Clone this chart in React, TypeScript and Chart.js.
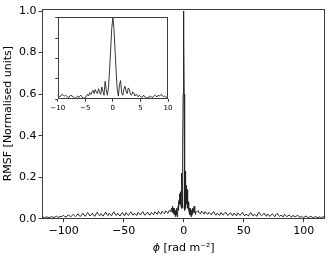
import React, { useEffect, useRef } from "react";
import { Chart, registerables } from "chart.js";

Chart.register(...registerables);

// ---- data ----
const PHI_LEFT_START = -118; // step 1 rad m^-2
const rmsfLeft = [
  0.006, 0.008, 0.005, 0.007, 0.009, 0.006, 0.005, 0.008, 0.010, 0.007, 0.006, 0.009, 0.012, 0.008, 0.007, 0.011, 0.009, 0.013,
  0.016, 0.010, 0.008, 0.012, 0.019, 0.013, 0.009, 0.015, 0.021, 0.014, 0.010, 0.017, 0.024, 0.015, 0.011, 0.018, 0.026, 0.017, 0.012, 0.020,
  0.030, 0.022, 0.013, 0.019, 0.027, 0.016, 0.012, 0.023, 0.031, 0.020, 0.014, 0.025, 0.018, 0.013, 0.022, 0.032, 0.021, 0.015, 0.026, 0.019,
  0.014, 0.028, 0.033, 0.020, 0.016, 0.027, 0.019, 0.013, 0.024, 0.030, 0.018, 0.015, 0.029, 0.021, 0.016, 0.025, 0.033, 0.022, 0.017, 0.027,
  0.020, 0.016, 0.031, 0.024, 0.018, 0.028, 0.034, 0.021, 0.017, 0.026, 0.032, 0.020, 0.018, 0.030, 0.025, 0.019, 0.033, 0.028, 0.021, 0.035,
  0.027, 0.022, 0.036, 0.030, 0.024, 0.038, 0.031, 0.026, 0.040, 0.034,
];

const PHI_CORE_START = -10;
const PHI_CORE_STEP = 0.2;
const rmsfCore = [
  0.05, 0.04, 0.03, 0.05, 0.06, 0.05, 0.04, 0.05, 0.04, 0.03,
  0.02, 0.04, 0.05, 0.04, 0.03, 0.02, 0.01, 0.03, 0.04, 0.02,
  0.04, 0.05, 0.03, 0.01, 0.02, 0.01, 0.04, 0.06, 0.04, 0.08,
  0.06, 0.09, 0.11, 0.07, 0.12, 0.09, 0.07, 0.13, 0.09, 0.06,
  0.15, 0.10, 0.05, 0.22, 0.12, 0.05, 0.14, 0.35, 0.60, 0.87,
  1.00, 0.87, 0.60, 0.34, 0.12, 0.04, 0.18, 0.23, 0.08, 0.05,
  0.12, 0.16, 0.10, 0.07, 0.14, 0.12, 0.06, 0.05, 0.09, 0.08,
  0.04, 0.06, 0.05, 0.03, 0.05, 0.04, 0.02, 0.03, 0.05, 0.03,
  0.02, 0.01, 0.03, 0.02, 0.04, 0.03, 0.02, 0.04, 0.05, 0.04,
  0.03, 0.05, 0.04, 0.05, 0.06, 0.04, 0.03, 0.04, 0.03, 0.02,
  0.03,
];

const PHI_RIGHT_START = 11; // step 1 rad m^-2
const rmsfRight = [
  0.033, 0.039, 0.028, 0.024, 0.036, 0.030, 0.022, 0.034, 0.027, 0.021,
  0.031, 0.025, 0.019, 0.029, 0.034, 0.022, 0.017, 0.027, 0.020, 0.016, 0.030, 0.023, 0.018, 0.026, 0.032, 0.020, 0.016, 0.024, 0.029, 0.019,
  0.015, 0.026, 0.021, 0.014, 0.028, 0.022, 0.016, 0.024, 0.031, 0.019, 0.014, 0.023, 0.017, 0.013, 0.025, 0.029, 0.018, 0.014, 0.022, 0.016,
  0.012, 0.026, 0.030, 0.019, 0.014, 0.021, 0.027, 0.017, 0.012, 0.023, 0.015, 0.011, 0.019, 0.024, 0.015, 0.010, 0.020, 0.026, 0.016, 0.011,
  0.017, 0.013, 0.009, 0.021, 0.015, 0.010, 0.014, 0.018, 0.011, 0.008, 0.016, 0.012, 0.009, 0.013, 0.017, 0.010, 0.007, 0.012, 0.009, 0.006,
  0.010, 0.013, 0.008, 0.006, 0.009, 0.011, 0.007, 0.005, 0.008, 0.010, 0.006, 0.005, 0.009, 0.007, 0.005, 0.008, 0.011, 0.007,
];

const xTicksMain = [-100, -50, 0, 50, 100];
const yTicksMain = [0, 0.2, 0.4, 0.6, 0.8, 1.0];
const xTicksInset = [-10, -5, 0, 5, 10];
const yTicksInset = [0, 0.25, 0.5, 0.75, 1.0];

const xLabelSymbol = "ϕ";
const xLabelUnit = " [rad m⁻²]";
const yLabel = "RMSF [Normalised units]";

function buildPoints() {
  const pts: { x: number; y: number }[] = [];
  rmsfLeft.forEach((v, i) => pts.push({ x: PHI_LEFT_START + i, y: v }));
  rmsfCore.forEach((v, i) => pts.push({ x: +(PHI_CORE_START + i * PHI_CORE_STEP).toFixed(2), y: v }));
  rmsfRight.forEach((v, i) => pts.push({ x: PHI_RIGHT_START + i, y: v }));
  return pts;
}

const fmt = (v: number, digits: number) => {
  const s = Math.abs(v).toFixed(digits);
  return v < 0 ? "\u2212" + s : s;
};

const FONT = "'DejaVu Sans', sans-serif";
const LINE = "#222";
const FRAME = "#3c3c3c";

const framePlugin = {
  id: "frame",
  afterDraw(chart: any) {
    const { left, top, right, bottom } = chart.chartArea;
    const ctx = chart.ctx;
    ctx.save();
    ctx.strokeStyle = FRAME;
    ctx.lineWidth = 1;
    const l = Math.round(left) + 0.5;
    const t = Math.round(top) + 0.5;
    const r = Math.round(right) - 0.5;
    const b = Math.round(bottom) - 0.5;
    ctx.strokeRect(l, t, r - l, b - t);
    ctx.restore();
  },
};

// x-axis title with an italic phi, drawn as real canvas text
const xTitlePlugin = {
  id: "xTitle",
  afterDraw(chart: any) {
    const { left, right } = chart.chartArea;
    const ctx = chart.ctx;
    ctx.save();
    ctx.fillStyle = "#000";
    ctx.textBaseline = "middle";
    ctx.textAlign = "left";
    const fItal = `italic 11px ${FONT}`;
    const fNorm = `11px ${FONT}`;
    ctx.font = fItal;
    const w1 = ctx.measureText(xLabelSymbol).width;
    ctx.font = fNorm;
    const w2 = ctx.measureText(xLabelUnit).width;
    const cx = (left + right) / 2;
    const x0 = cx - (w1 + w2) / 2;
    const y = 248;
    ctx.font = fItal;
    ctx.fillText(xLabelSymbol, x0, y);
    ctx.font = fNorm;
    ctx.fillText(xLabelUnit, x0 + w1, y);
    ctx.restore();
  },
};

function makeConfig(opts: {
  xMin: number; xMax: number; yMin: number; yMax: number;
  xTicks: number[]; yTicks: number[];
  fontSize: number; tickLen: number;
  yAxisWidth: number; xAxisHeight: number;
  padding: { left: number; right: number; top: number; bottom: number };
  showYLabels: boolean; titles: boolean; xPad: number; yPad: number;
  lineWidth: number;
}) {
  const grid = {
    display: true,
    drawOnChartArea: false,
    drawTicks: true,
    tickLength: opts.tickLen,
    color: FRAME,
    lineWidth: 1,
  };
  const plugins: any[] = [framePlugin];
  if (opts.titles) plugins.push(xTitlePlugin);
  return {
    type: "line" as const,
    data: {
      datasets: [
        {
          data: buildPoints(),
          borderColor: LINE,
          borderWidth: opts.lineWidth,
          pointRadius: 0,
          tension: 0,
          fill: false,
        },
      ],
    },
    options: {
      responsive: false,
      animation: false,
      devicePixelRatio: 1,
      layout: { padding: opts.padding },
      plugins: { legend: { display: false }, tooltip: { enabled: false } },
      scales: {
        x: {
          type: "linear",
          min: opts.xMin,
          max: opts.xMax,
          afterBuildTicks: (s: any) => { s.ticks = opts.xTicks.map((v) => ({ value: v })); },
          afterFit: (s: any) => { s.height = opts.xAxisHeight; },
          grid,
          border: { display: false },
          ticks: {
            font: { family: FONT, size: opts.fontSize },
            color: "#000",
            padding: opts.xPad,
            maxRotation: 0,
            autoSkip: false,
            callback: (v: any) => fmt(Number(v), 0),
          },
          title: { display: false },
        },
        y: {
          type: "linear",
          min: opts.yMin,
          max: opts.yMax,
          afterBuildTicks: (s: any) => { s.ticks = opts.yTicks.map((v) => ({ value: v })); },
          afterFit: (s: any) => { s.width = opts.yAxisWidth; },
          grid,
          border: { display: false },
          ticks: {
            font: { family: FONT, size: opts.fontSize },
            color: "#000",
            padding: opts.yPad,
            autoSkip: false,
            callback: (v: any) => (opts.showYLabels ? fmt(Number(v), 1) : ""),
          },
          title: {
            display: opts.titles,
            text: yLabel,
            color: "#000",
            font: { family: FONT, size: 11 },
            padding: { top: 1.4, bottom: 0 },
          },
        },
      },
    },
    plugins,
  };
}

export default function App() {
  const mainRef = useRef<HTMLCanvasElement>(null);
  const insetRef = useRef<HTMLCanvasElement>(null);

  useEffect(() => {
    Chart.defaults.font.family = FONT;
    const main = new Chart(
      mainRef.current as HTMLCanvasElement,
      makeConfig({
        xMin: -118, xMax: 118, yMin: 0, yMax: 1.012,
        xTicks: xTicksMain, yTicks: yTicksMain,
        fontSize: 11, tickLen: 3.5,
        yAxisWidth: 42, xAxisHeight: 37.3,
        padding: { left: 0, right: 8.7, top: 8, bottom: 0 },
        showYLabels: true, titles: true, xPad: 2, yPad: 2,
        lineWidth: 1,
      }) as any
    );
    const inset = new Chart(
      insetRef.current as HTMLCanvasElement,
      makeConfig({
        xMin: -10, xMax: 10, yMin: 0, yMax: 1.01,
        xTicks: xTicksInset, yTicks: yTicksInset,
        fontSize: 7, tickLen: 2.5,
        yAxisWidth: 27.7, xAxisHeight: 18.7,
        padding: { left: 0, right: 10, top: 7, bottom: 0 },
        showYLabels: false, titles: false, xPad: 2, yPad: 1,
        lineWidth: 0.9,
      }) as any
    );
    return () => {
      main.destroy();
      inset.destroy();
    };
  }, []);

  return (
    <div style={{ position: "absolute", left: 0, top: 0, width: 334, height: 256, background: "#fff" }}>
      <canvas ref={mainRef} width={334} height={256} style={{ position: "absolute", left: 0, top: 0 }} />
      <canvas ref={insetRef} width={148} height={108} style={{ position: "absolute", left: 30, top: 10 }} />
    </div>
  );
}
